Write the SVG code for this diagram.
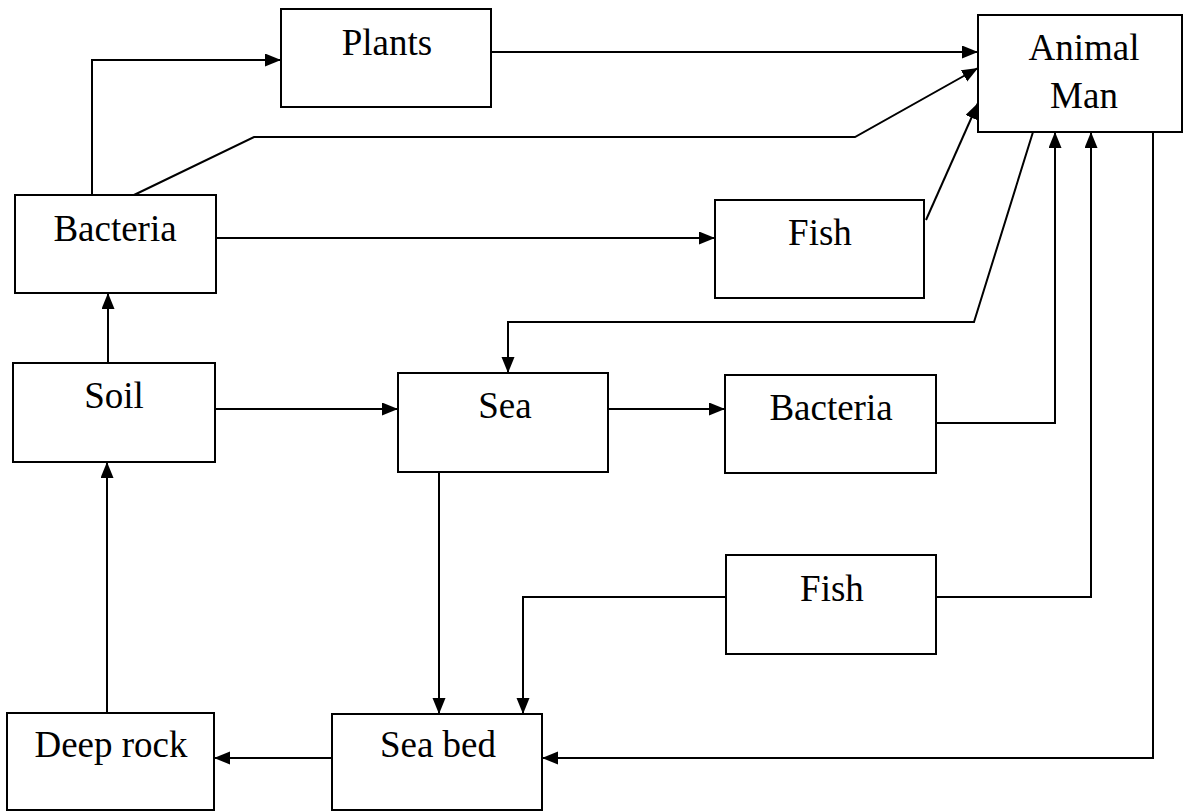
<svg xmlns="http://www.w3.org/2000/svg" width="1183" height="811" viewBox="0 0 1183 811">
<style>
.box{fill:#fff;stroke:#000;stroke-width:2}
.lbl{font-family:"Liberation Serif","Times New Roman",serif;font-size:37px;fill:#000;text-anchor:middle}
.con{fill:none;stroke:#000;stroke-width:2}
</style>
<defs>
<marker id="ah" markerUnits="userSpaceOnUse" markerWidth="17" markerHeight="14" refX="16" refY="6.5" orient="auto">
<path d="M0,0 L16,6.5 L0,13 z" fill="#000"/>
</marker>
</defs>
<rect width="1183" height="811" fill="#fff"/>
<g id="connectors" class="con" marker-end="url(#ah)">
<path d="M92,195 V60 H281"/>
<path d="M491,52 H978"/>
<path d="M134,195 L254,137 H855 L978,68"/>
<path d="M216,238 H715"/>
<path d="M926,220 L978,103"/>
<path d="M1033,132 L974,322 H508 V373"/>
<path d="M108,363 V293"/>
<path d="M215,409 H398"/>
<path d="M608,409 H725"/>
<path d="M936,423 H1055 V132"/>
<path d="M936,597 H1091 V132"/>
<path d="M726,597 H523 V714"/>
<path d="M439,472 V714"/>
<path d="M1153,132 V758 H542"/>
<path d="M332,758 H214"/>
<path d="M107,713 V462"/>
</g>
<g id="plants"><rect class="box" x="281" y="9" width="210" height="98"/><text class="lbl" x="387" y="55">Plants</text></g>
<g id="animal-man"><rect class="box" x="978" y="15" width="204" height="117"/><text class="lbl" x="1084" y="60">Animal</text><text class="lbl" x="1084" y="108">Man</text></g>
<g id="bacteria-left"><rect class="box" x="15" y="195" width="201" height="98"/><text class="lbl" x="115" y="241">Bacteria</text></g>
<g id="fish-top"><rect class="box" x="715" y="200" width="209" height="98"/><text class="lbl" x="820" y="245">Fish</text></g>
<g id="soil"><rect class="box" x="13" y="363" width="202" height="99"/><text class="lbl" x="114" y="408">Soil</text></g>
<g id="sea"><rect class="box" x="398" y="373" width="210" height="99"/><text class="lbl" x="505" y="418">Sea</text></g>
<g id="bacteria-right"><rect class="box" x="725" y="375" width="211" height="98"/><text class="lbl" x="831" y="420">Bacteria</text></g>
<g id="fish-bottom"><rect class="box" x="726" y="555" width="210" height="99"/><text class="lbl" x="832" y="601">Fish</text></g>
<g id="sea-bed"><rect class="box" x="332" y="714" width="210" height="96"/><text class="lbl" x="438" y="757">Sea bed</text></g>
<g id="deep-rock"><rect class="box" x="7" y="713" width="207" height="97"/><text class="lbl" x="111" y="757">Deep rock</text></g>
</svg>
